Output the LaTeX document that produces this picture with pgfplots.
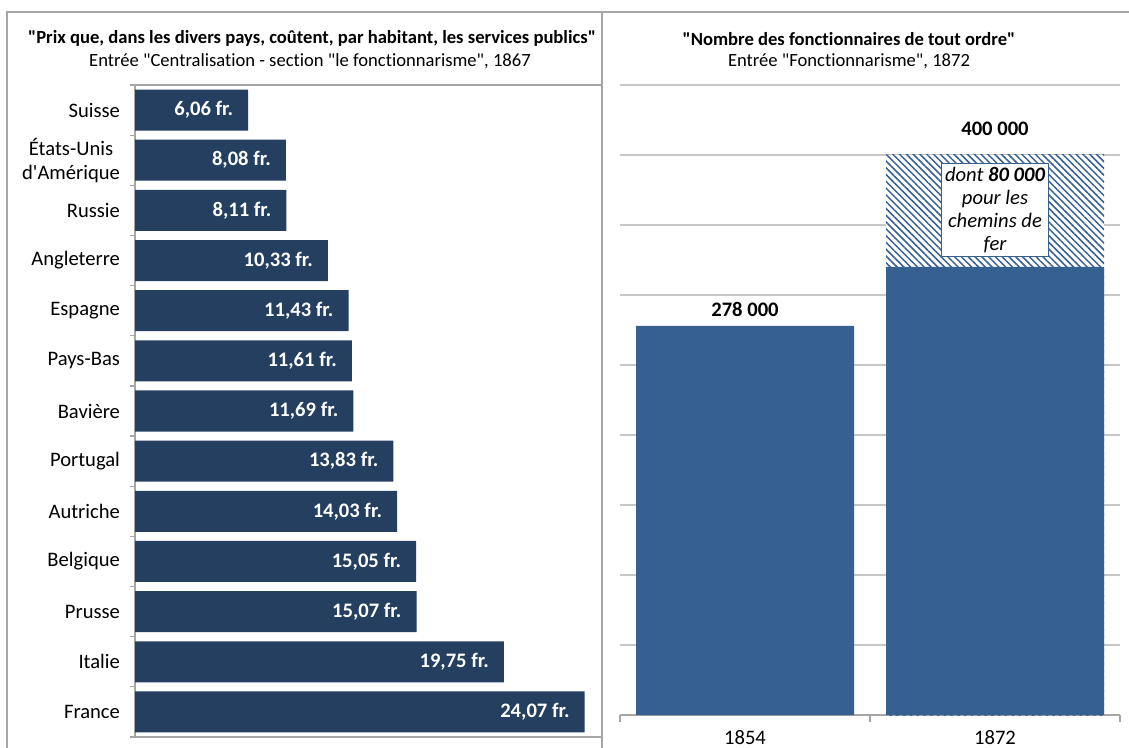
\documentclass[border=0pt]{standalone}
\usepackage{fontspec}
\setmainfont{Carlito}[Ligatures={NoCommon}]
\usepackage{pgfplots}
\usepackage{pgfplotstable}
\pgfplotsset{compat=1.18}
\usetikzlibrary{patterns.meta}
\definecolor{navy}{HTML}{243F60}
\definecolor{steel}{HTML}{376092}
\definecolor{gridc}{HTML}{C8C8C8}
\definecolor{framec}{HTML}{A6A6A6}

% prix par habitant (fr.), y = position (Suisse en haut)
\pgfplotstableread{
pos val
12 6.06
11 8.08
10 8.11
9  10.33
8  11.43
7  11.61
6  11.69
5  13.83
4  14.03
3  15.05
2  15.07
1  19.75
0  24.07
}\prix

\newcommand{\lab}{\fontsize{10.3}{12}\selectfont}
\newcommand{\ttl}{\fontsize{9.3}{11}\selectfont}
\newcommand{\q}{\textquotedbl}

\begin{document}
\begin{tikzpicture}
% cadres des deux graphiques
\draw[framec, line width=0.7pt] (3.5pt,-380pt) -- (3.5pt,-6pt) -- (570pt,-6pt);
\draw[framec, line width=0.7pt] (301pt,-6pt) -- (301pt,-380pt);

\node[font=\ttl\bfseries] at (156pt,-19pt) {\q Prix que, dans les divers pays, coûtent, par habitant, les services publics\q};
\node[font=\ttl] at (155pt,-30.5pt) {Entrée \q Centralisation - section \q le fonctionnarisme\q, 1867};
\node[font=\ttl\bfseries] at (424.5pt,-19.5pt) {\q Nombre des fonctionnaires de tout ordre\q};
\node[font=\ttl] at (424.5pt,-30.5pt) {Entrée \q Fonctionnarisme\q, 1872};

\begin{axis}[
    at={(67.5pt,-368.5pt)}, anchor=south west,
    scale only axis, width=233.5pt, height=326pt,
    xbar, bar width=20.5pt,
    xmin=0, xmax=25, ymin=-0.5, ymax=12.5,
    xtick=\empty, minor xtick={0,5,...,25}, xminorgrids,
    minor grid style={gridc, line width=0.6pt},
    ytick={0,...,12},
    yticklabels={France,Italie,Prusse,Belgique,Autriche,Portugal,Bavière,Pays-Bas,Espagne,Angleterre,Russie,{États-Unis\\d\textquotesingle Amérique},Suisse},
    yticklabel style={align=center, font=\lab, xshift=-4pt},
    minor ytick={-0.5,0.5,...,12.5},
    xtick pos=bottom, ytick pos=left,
    major tick length=0pt, minor tick length=2.5pt, tick align=outside,
    tick style={framec, line width=0.6pt},
    axis line style={framec, line width=0.6pt},
    point meta=x,
    nodes near coords={\pgfmathprintnumber[fixed,fixed zerofill,precision=2,use comma,assume math mode=true]{\pgfplotspointmeta}~fr.},
    nodes near coords style={anchor=east, xshift=-4pt, white, font=\lab\bfseries},
]
\addplot[fill=navy, draw=none] table[x=val, y=pos] {\prix};
\end{axis}

\begin{axis}[
    at={(310pt,-357.5pt)}, anchor=south west,
    scale only axis, width=250pt, height=315pt,
    ybar, bar width=109pt,
    xmin=-0.5, xmax=1.5, ymin=0, ymax=450000,
    axis lines*=left,
    y axis line style={draw=none},
    x axis line style={framec, line width=0.6pt},
    ytick={0,50000,...,450000}, yticklabels={}, ymajorgrids, scaled y ticks=false,
    major grid style={gridc, line width=0.6pt},
    xtick={0,1}, xticklabels={1854,1872},
    xticklabel style={font=\lab, yshift=-4pt},
    minor xtick={-0.5,0.5,1.5},
    major tick length=0pt, minor tick length=3.5pt, tick align=outside,
    tick style={framec, line width=0.6pt},
    point meta=explicit symbolic,
    nodes near coords,
    nodes near coords style={anchor=south, black, font=\lab\bfseries},
]
% 1872 : total, dont chemins de fer (hachuré)
\addplot[bar shift=0pt, fill=white, draw=none,
    postaction={pattern={Lines[angle=-45,distance=2.4pt,line width=0.75pt]}, pattern color=steel},
    nodes near coords style={yshift=6pt}]
    coordinates {(1,400000) [400 000]};
\addplot[bar shift=0pt, fill=steel, draw=none, nodes near coords style={yshift=1pt}]
    coordinates {(0,278000) [278 000] (1,320000) []};
\node[fill=white, draw=steel, line width=0.5pt, align=center, inner sep=2pt,
    font=\fontsize{10.3}{11.35}\selectfont\itshape] at (axis cs:1,360700)
    {dont \textbf{80 000}\\pour les\\chemins de\\fer};
\end{axis}

\pgfresetboundingbox
\path[use as bounding box] (0,0) rectangle (564.5pt,-374pt);
\end{tikzpicture}
\end{document}
